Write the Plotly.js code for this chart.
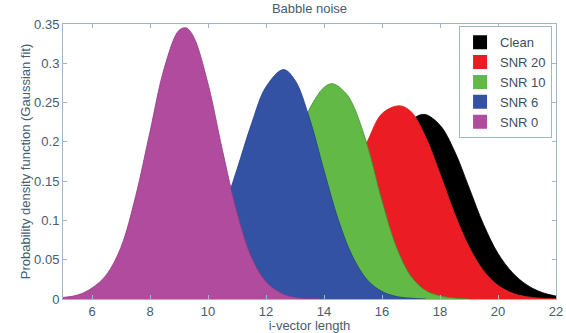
<!DOCTYPE html>
<html>
<head>
<meta charset="utf-8">
<script src="https://cdn.plot.ly/plotly-3.0.1.min.js"></script>
<style>
  html, body { margin: 0; padding: 0; background: #ffffff; }
  #chart { width: 566px; height: 333px; }
</style>
</head>
<body>
<div id="chart"></div>
<script>
// Series names (legend order)
const seriesNames = ['Clean', 'SNR 20', 'SNR 10', 'SNR 6', 'SNR 0'];

// Values (i-vector length -> density)
const xClean = [12.5, 13, 13.5, 14, 14.5, 15, 15.5, 16, 16.5, 17, 17.45, 18, 18.5, 19, 19.5, 20, 20.5, 21, 21.5, 22];
const yClean = [0.0034, 0.0076, 0.0158, 0.030, 0.052, 0.083, 0.1217, 0.163, 0.201, 0.227, 0.235, 0.2212, 0.1884, 0.142, 0.095, 0.058, 0.0335, 0.0178, 0.0085, 0.0037];

const xSnr20 = [12, 12.5, 13, 13.5, 14, 14.5, 15, 15.5, 16, 16.6, 17, 17.5, 18, 18.5, 19, 19.5, 20, 20.5, 21, 21.5, 22];
const ySnr20 = [0.009, 0.0175, 0.032, 0.054, 0.084, 0.121, 0.1625, 0.201, 0.236, 0.246, 0.2386, 0.2068, 0.1594, 0.1092, 0.0666, 0.0361, 0.0174, 0.0075, 0.0028, 0.001, 0.0003];

const xSnr10 = [10.5, 11, 11.5, 12, 12.5, 13, 13.5, 14, 14.3, 14.75, 15, 15.5, 16, 16.5, 17, 17.5, 18, 18.5, 19];
const ySnr10 = [0.0163, 0.0327, 0.0593, 0.0975, 0.1455, 0.197, 0.2418, 0.2692, 0.274, 0.262, 0.247, 0.195, 0.125, 0.066, 0.029, 0.011, 0.004, 0.0012, 0];

const xSnr6 = [8.5, 9, 9.5, 10, 10.5, 11, 11.5, 12, 12.6, 13, 13.5, 14, 14.5, 15, 15.5, 16, 16.5, 17, 17.5];
const ySnr6 = [0.007, 0.0164, 0.0345, 0.065, 0.110, 0.165, 0.223, 0.270, 0.292, 0.2785, 0.230, 0.1635, 0.100, 0.053, 0.024, 0.0096, 0.0032, 0.001, 0];

const xSnr0 = [5, 5.5, 6, 6.5, 7, 7.5, 8, 8.5, 9, 9.25, 9.5, 10, 10.5, 11, 11.5, 12, 12.5, 13, 13.5, 14];
const ySnr0 = [0.002, 0.005, 0.014, 0.031, 0.066, 0.130, 0.213, 0.295, 0.342, 0.345, 0.334, 0.274, 0.189, 0.110, 0.053, 0.022, 0.008, 0.002, 0.0005, 0];

// Axis ticks
const xTicks = [6, 8, 10, 12, 14, 16, 18, 20, 22];
const yTicks = [0, 0.05, 0.1, 0.15, 0.2, 0.25, 0.3, 0.35];

const fillColors = ['#000000', '#ec1c24', '#62b946', '#3452a4', '#b04b9e'];
const edgeColors = ['#000000', '#d0301a', '#3f8f2a', '#23408a', '#8e3a80'];

const xs = [xClean, xSnr20, xSnr10, xSnr6, xSnr0];
const ys = [yClean, ySnr20, ySnr10, ySnr6, ySnr0];

const traces = [];
for (let i = 0; i < seriesNames.length; i++) {
  traces.push({
    type: 'scatter', mode: 'lines',
    x: xs[i], y: ys[i],
    fill: 'tozeroy',
    fillcolor: fillColors[i],
    line: { color: edgeColors[i], width: 0.8, shape: 'spline', smoothing: 1 },
    showlegend: false, hoverinfo: 'skip'
  });
}
// Legend swatches (square patches like the reference)
for (let i = 0; i < seriesNames.length; i++) {
  traces.push({
    type: 'bar', x: [null], y: [null], name: seriesNames[i],
    marker: { color: fillColors[i], line: { color: fillColors[i], width: 2 } },
    showlegend: true
  });
}

const textColor = '#455d6d';
const axisColor = '#9fb7c6';
const fontFam = 'Liberation Sans, Arial, sans-serif';

const layout = {
  width: 566, height: 333,
  margin: { l: 63, r: 10, t: 24, b: 34 },
  paper_bgcolor: '#ffffff', plot_bgcolor: '#ffffff',
  font: { family: fontFam, size: 13, color: textColor },
  title: { text: 'Babble noise', font: { family: fontFam, size: 13, color: textColor },
           xref: 'paper', x: 0.5, xanchor: 'center', yref: 'container', y: 0.975, yanchor: 'middle' },
  showlegend: true,
  legend: {
    x: 0.992, y: 0.992, xanchor: 'right', yanchor: 'top',
    bgcolor: '#ffffff', bordercolor: axisColor, borderwidth: 1,
    font: { family: fontFam, size: 13, color: '#3a4f5e' },
    traceorder: 'normal', tracegroupgap: 0, itemwidth: 30
  },
  xaxis: {
    type: 'linear', range: [5, 22], tickvals: xTicks,
    ticks: 'inside', ticklen: 4, tickcolor: axisColor,
    showline: true, linecolor: axisColor, linewidth: 1, mirror: 'ticks',
    showgrid: false, zeroline: false,
    tickfont: { family: fontFam, size: 13, color: textColor },
    title: { text: 'i-vector length', standoff: 0, font: { family: fontFam, size: 13, color: textColor } }
  },
  yaxis: {
    type: 'linear', range: [0, 0.35], tickvals: yTicks,
    ticktext: ['0', '0.05', '0.1', '0.15', '0.2', '0.25', '0.3', '0.35'],
    ticks: 'inside', ticklen: 4, tickcolor: axisColor,
    showline: true, linecolor: axisColor, linewidth: 1, mirror: 'ticks',
    showgrid: false, zeroline: false,
    tickfont: { family: fontFam, size: 13, color: textColor },
    title: { text: 'Probability density function (Gaussian fit)', standoff: 0, font: { family: fontFam, size: 13, color: textColor } }
  }
};

Plotly.newPlot('chart', traces, layout, { displayModeBar: false, staticPlot: true });
</script>
</body>
</html>
